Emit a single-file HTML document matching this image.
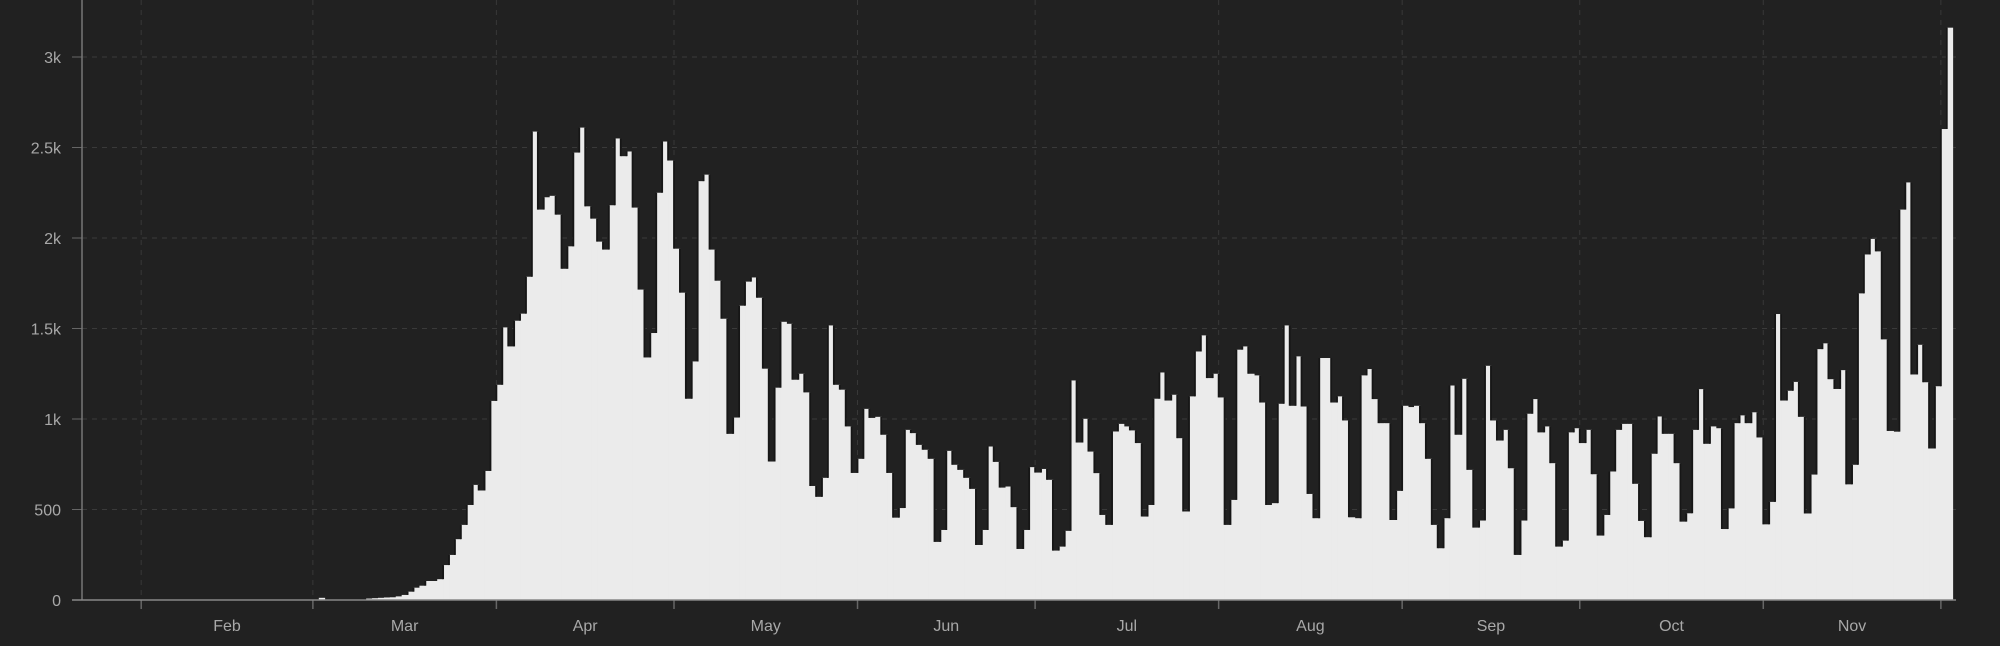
<!DOCTYPE html>
<html><head><meta charset="utf-8"><style>
html,body{margin:0;padding:0;background:#212121;}
svg{display:block;}
text{font-family:"Liberation Sans",sans-serif;font-size:16px;fill:#a8a8a8;}
</style></head><body>
<svg id="chart" width="2000" height="646" viewBox="0 0 2000 646" xmlns="http://www.w3.org/2000/svg">
<rect x="0" y="0" width="2000" height="646" fill="#212121"/>
<g id="grid"></g>
<g id="bars"></g>
<g id="edges"></g>
<g id="axes"></g>
</svg>
<script>
const startDateLabel = "2020-01-22";
const values = [
0,0,0,0,0,0,0,0,0,0, 0,0,0,0,0,0,0,0,0,0,
0,0,0,0,0,0,0,0,0,0, 0,0,0,0,0,0,0,0,0,0,
12,2,2,2,2,2,2,2,8,10, 12,14,15,20,
28,46,68,79,105,105,115,193,249,336,
415,525,636,605,713,1100,1189,1506,1401,1543,
1582,1786,2588,2157,2225,2233,2129,1830,1954,2472,
2610,2175,2107,1980,1936,2181,2550,2452,2478,2168,
1715,1340,1475,2250,2533,2428,1941,1698,1112,1318,2314,
2350,1936,1764,1554,918,1008,1626,1759,1782,1670,
1278,765,1173,1537,1526,1217,1250,1147,630,570,
675,1517,1189,1162,959,702,780,1056,1006,1012,
913,702,455,508,940,922,857,830,780,321,
387,824,747,719,675,614,304,387,848,763,
621,627,513,282,387,734,704,724,664,273,
295,382,1213,870,1001,820,701,470,415,931,
973,959,937,867,461,525,1112,1257,1102,1134,
894,489,1125,1373,1462,1226,1250,1119,415,553,1383,
1401,1250,1241,1091,525,535,1084,1517,1073,1346,
1069,586,452,1337,1337,1091,1125,992,457,452,
1241,1276,1110,977,977,442,603,1073,1066,1073,
977,780,415,286,452,1185,913,1222,719,400,
439,1294,992,881,940,728,249,439,1029,1110,
926,959,756,295,328,926,949,867,940,695,
356,470,710,940,973,973,642,437,347,808,
1014,918,918,756,433,479,940,1165,863,959,949,
392,506,977,1020,977,1037,898,418,542,1580,
1102,1156,1205,1012,478,693,1386,1418,1220,1166,
1270,639,747,1694,1909,1995,1926,1440,934,930,
2157,2307,1246,1410,1203,837,1181,2602,3162
];
const yTicks = [0,500,1000,1500,2000,2500,3000];
const yTickLabels = ["0","500","1k","1.5k","2k","2.5k","3k"];
const monthStartDays = [10,39,70,100,131,161,192,223,253,284,314];
const monthLabels = ["Feb","Mar","Apr","May","Jun","Jul","Aug","Sep","Oct","Nov"];

const NS="http://www.w3.org/2000/svg";
const X0=82, DAY=5.92, Y0=600, YTOP3K=57;
function xs(d){return X0+d*DAY;}
function ys(v){return Y0-(v/3000)*(Y0-YTOP3K);}
function mk(tag,attrs,parent){const e=document.createElementNS(NS,tag);for(const k in attrs)e.setAttribute(k,attrs[k]);parent.appendChild(e);return e;}
const grid=document.getElementById('grid'),bars=document.getElementById('bars'),edges=document.getElementById('edges'),axes=document.getElementById('axes');

yTicks.forEach((t,i)=>{
  if(t>0){const l=mk('line',{x1:X0,x2:1956,y1:ys(t),y2:ys(t),stroke:'#3a3a3a','stroke-width':1,'stroke-dasharray':'5,5'},grid);
  
  }
  const tk=mk('line',{x1:X0-10,x2:X0,y1:ys(t),y2:ys(t),stroke:'#666','stroke-width':1},axes);
  
  
  const tx=mk('text',{x:X0-21,y:ys(t)+6,'text-anchor':'end'},axes);
  tx.textContent=yTickLabels[i];
  
  
});
monthStartDays.forEach(d=>{
  const l=mk('line',{x1:xs(d),x2:xs(d),y1:0,y2:Y0,stroke:'#383838','stroke-width':1,'stroke-dasharray':'5,5'},grid);
  
  
  const tk=mk('line',{x1:xs(d),x2:xs(d),y1:Y0,y2:Y0+9,stroke:'#666','stroke-width':1.5},axes);
  
  
});
monthLabels.forEach((m,i)=>{
  const mid=(monthStartDays[i]+monthStartDays[i+1])/2;
  const tx=mk('text',{x:xs(mid),y:631,'text-anchor':'middle'},axes);
  tx.textContent=m;
  
  
});
values.forEach((v,i)=>{
  const y=ys(v);
  const r=mk('rect',{x:xs(i),y:y,width:DAY+0.4,height:Math.max(0,Y0-y),fill:'#ebebeb'},bars);
  
  
});
values.forEach((v,i)=>{
  if(i===0) return;
  const p=values[i-1];
  const hi=Math.max(v,p), lo=Math.min(v,p);
  if(hi-lo<15) return;
  const e=mk('line',{x1:xs(i),x2:xs(i),y1:ys(hi),y2:ys(lo),stroke:'#161616','stroke-width':1.8},edges);
  
  
});
const ya=mk('line',{x1:X0,x2:X0,y1:0,y2:Y0,stroke:'#777','stroke-width':1.5},axes);


const xa=mk('line',{x1:X0-10,x2:1956,y1:Y0,y2:Y0,stroke:'#888','stroke-width':1.5},axes);


</script>
</body></html>
